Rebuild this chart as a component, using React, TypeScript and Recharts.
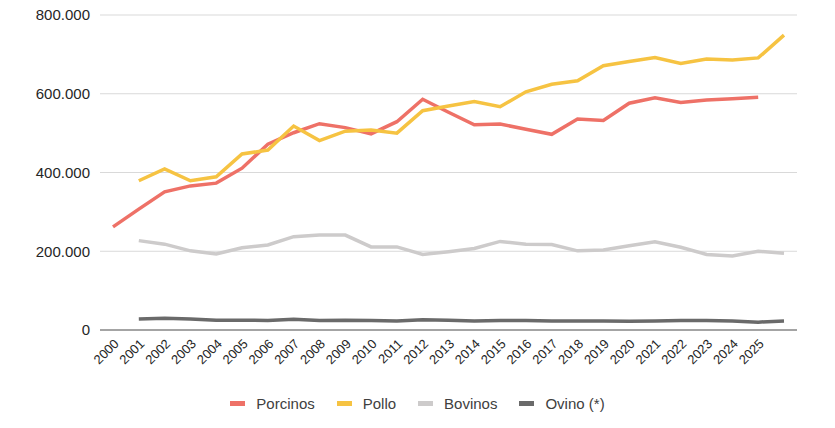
import React from 'react';
import { LineChart, Line, XAxis, YAxis, CartesianGrid, Legend } from 'recharts';

// años (la última posición no tiene etiqueta)
const years = [
  '2000', '2001', '2002', '2003', '2004', '2005', '2006', '2007', '2008', '2009',
  '2010', '2011', '2012', '2013', '2014', '2015', '2016', '2017', '2018', '2019',
  '2020', '2021', '2022', '2023', '2024', '2025', '',
];

// miles de toneladas aprox.
const porcinos = [262, 307, 351, 366, 373, 411, 472, 501, 524, 514, 498, 529, 586, 553, 521, 523, 510, 497, 536, 532, 576, 590, 578, 584, 587, 591, null];
const pollo = [null, 379, 409, 379, 389, 447, 457, 518, 481, 505, 508, 500, 557, 569, 580, 567, 605, 624, 633, 671, 682, 692, 677, 688, 686, 691, 749];
const bovinos = [null, 227, 218, 201, 193, 209, 216, 237, 241, 241, 211, 211, 192, 199, 207, 225, 218, 217, 201, 203, 214, 224, 210, 192, 188, 200, 195];
const ovino = [null, 28, 30, 28, 25, 25, 24, 27, 24, 25, 24, 23, 26, 25, 23, 24, 24, 23, 23, 23, 22, 23, 24, 24, 23, 20, 23];

const yTicks = [0, 200000, 400000, 600000, 800000];

const series = [
  { key: 'porcinos', name: 'Porcinos', color: '#EE7167', values: porcinos },
  { key: 'pollo', name: 'Pollo', color: '#F6C342', values: pollo },
  { key: 'bovinos', name: 'Bovinos', color: '#CDCBCB', values: bovinos },
  { key: 'ovino', name: 'Ovino (*)', color: '#6A6A6A', values: ovino },
];

const data = years.map((year, i) => {
  const row: Record<string, any> = { year };
  series.forEach((s) => {
    const v = s.values[i];
    row[s.key] = v == null ? null : v * 1000;
  });
  return row;
});

const FONT = '"Liberation Sans", Arial, sans-serif';

const fmt = (v: number) => String(v).replace(/\B(?=(\d{3})+(?!\d))/g, '.');

function LegendBox() {
  return (
    <div
      style={{
        height: 24,
        paddingLeft: 38,
        display: 'flex',
        justifyContent: 'center',
        alignItems: 'center',
        fontFamily: FONT,
        fontSize: 15,
        color: '#404040',
      }}
    >
      {series.map((s) => (
        <div key={s.key} style={{ display: 'flex', alignItems: 'center', margin: '0 11px' }}>
          <span style={{ display: 'inline-block', width: 15, height: 5, background: s.color, marginRight: 11 }} />
          <span>{s.name}</span>
        </div>
      ))}
    </div>
  );
}

export default function App() {
  return (
    <div style={{ position: 'absolute', left: 0, top: 0, width: 835, height: 428, background: '#fff' }}>
      <LineChart width={835} height={428} data={data} margin={{ top: 15, right: 38, left: 0, bottom: 13 }}>
        <CartesianGrid vertical={false} stroke="#D9D9D9" strokeWidth={1} />
        <XAxis
          dataKey="year"
          interval={0}
          height={61}
          padding={{ left: 13, right: 13 }}
          tickLine={false}
          axisLine={{ stroke: '#8C8C8C', strokeWidth: 1.5 }}
          angle={-45}
          textAnchor="end"
          tick={{ fontFamily: FONT, fontSize: 13, fill: '#262626' }}
        />
        <YAxis
          width={100}
          domain={[0, 800000]}
          ticks={yTicks}
          tickFormatter={fmt}
          axisLine={false}
          tickLine={false}
          tickMargin={4}
          tick={{ fontFamily: FONT, fontSize: 15, fill: '#262626' }}
        />
        <Legend verticalAlign="bottom" content={() => <LegendBox />} />
        {series.map((s) => (
          <Line
            key={s.key}
            type="linear"
            dataKey={s.key}
            name={s.name}
            stroke={s.color}
            strokeWidth={3.5}
            dot={false}
            activeDot={false}
            isAnimationActive={false}
          />
        ))}
      </LineChart>
    </div>
  );
}
